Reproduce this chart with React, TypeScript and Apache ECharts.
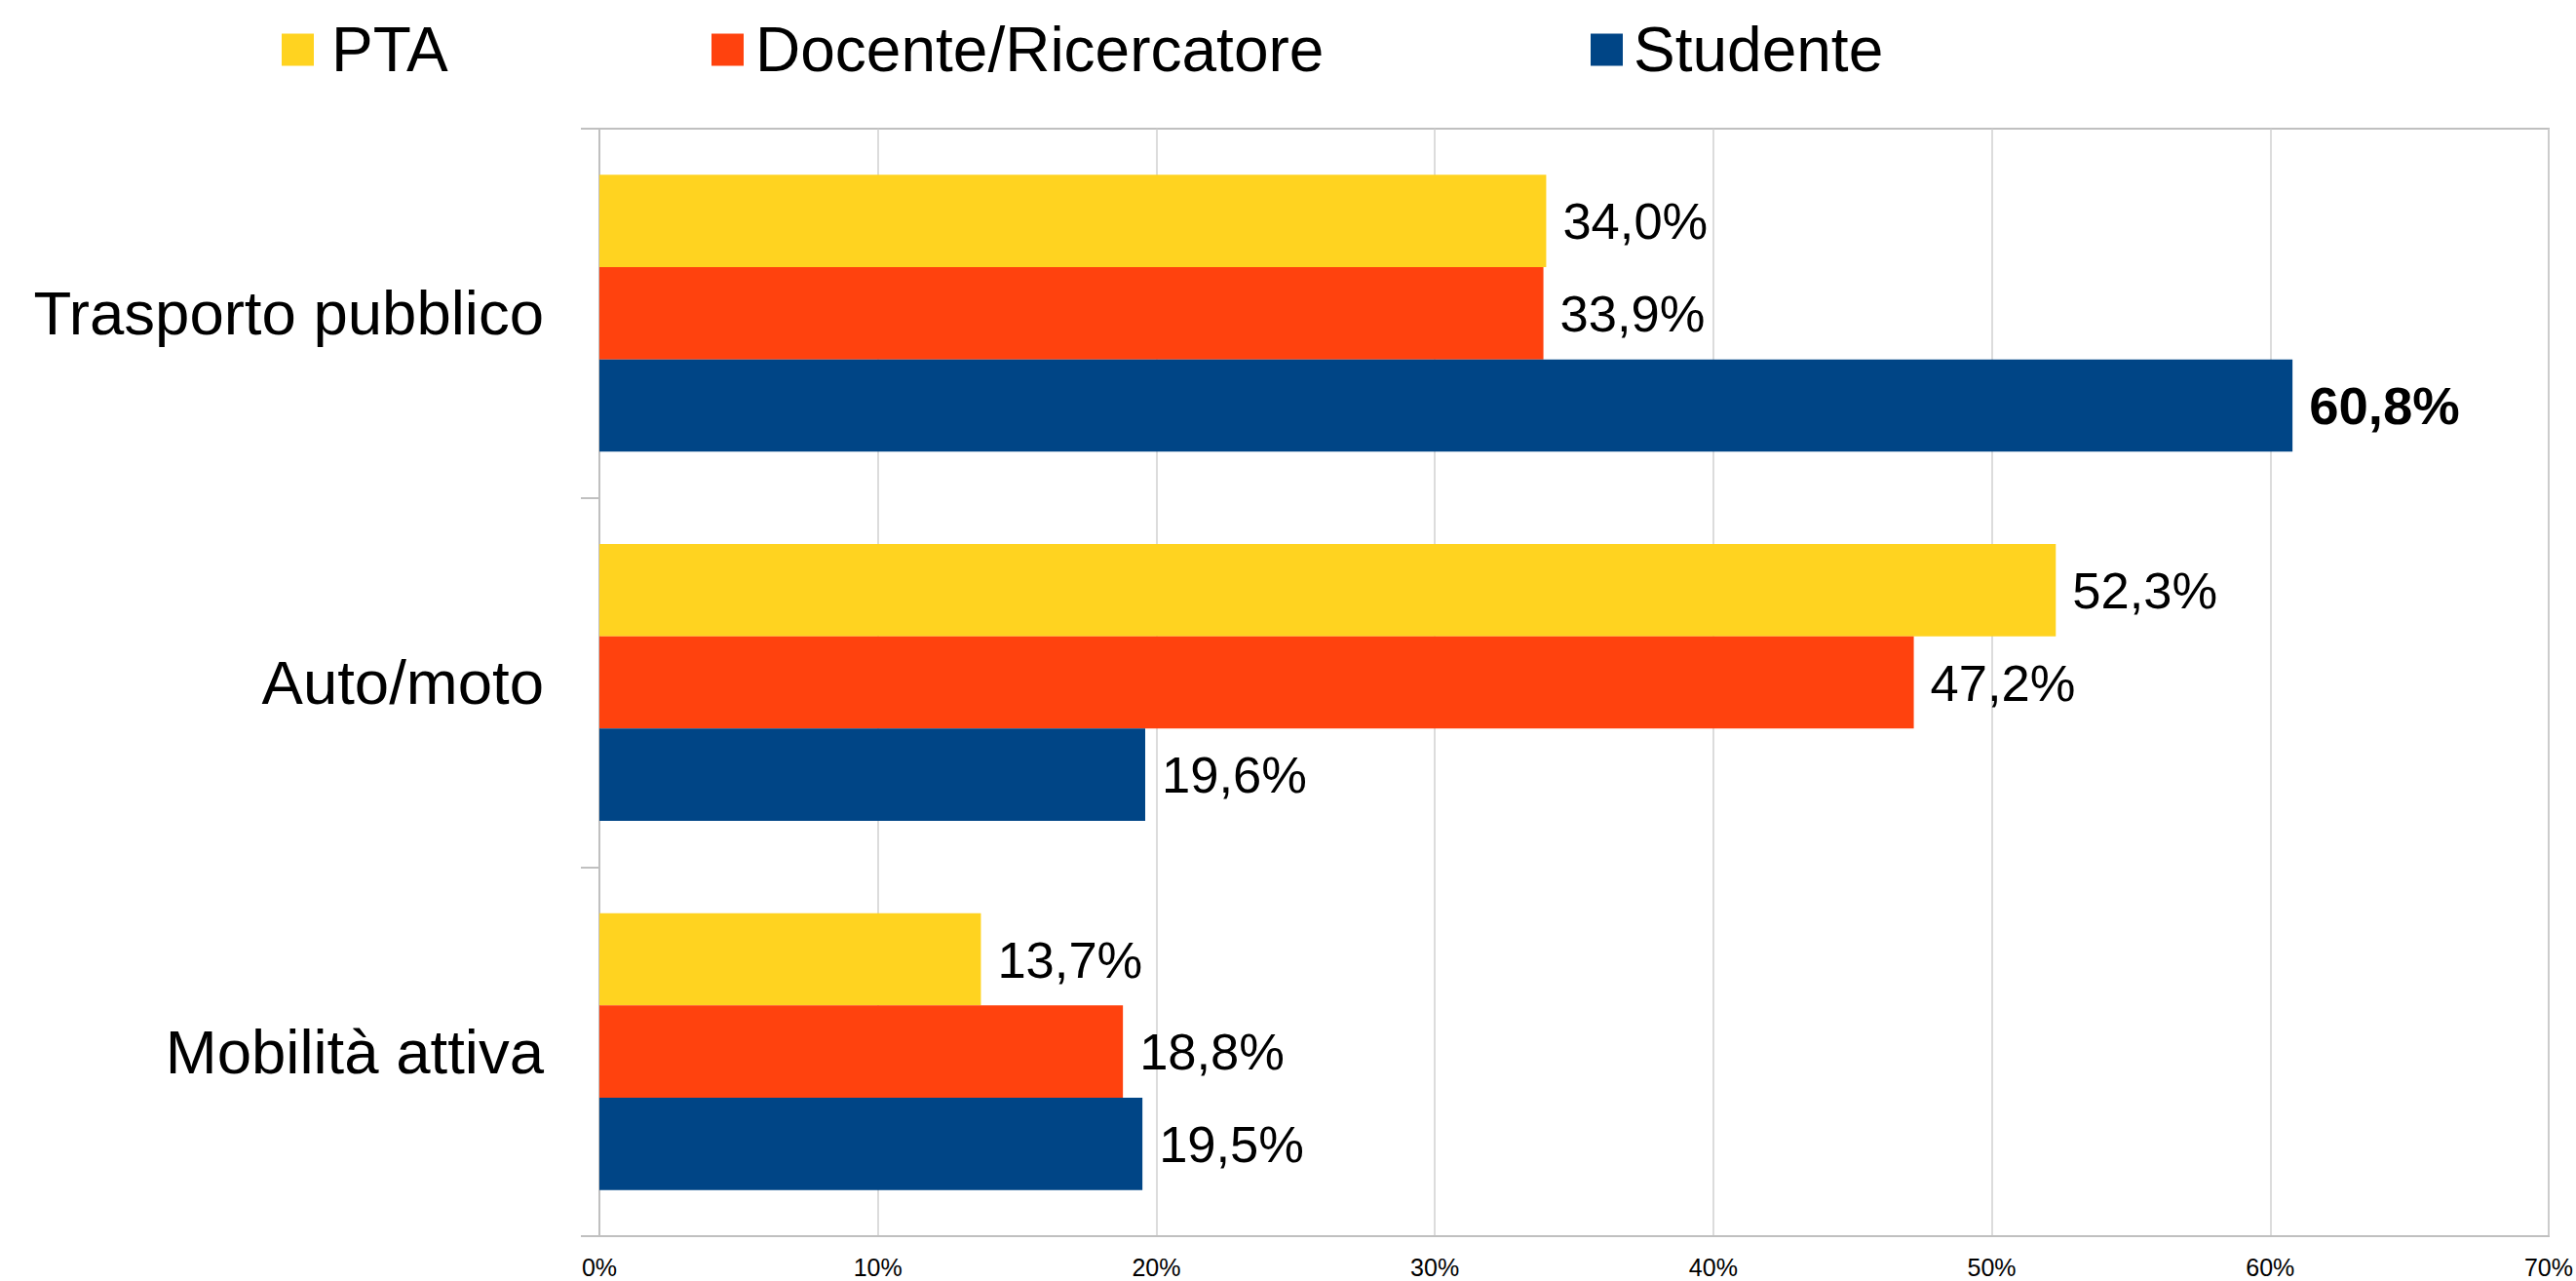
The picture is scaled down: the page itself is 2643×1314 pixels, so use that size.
import React, { useEffect, useRef } from "react";
import * as echarts from "echarts";

const categories = ["Trasporto pubblico", "Auto/moto", "Mobilità attiva"];
const seriesNames = ["PTA", "Docente/Ricercatore", "Studente"];
const ptaValues = [34.0, 52.3, 13.7];
const docenteValues = [33.9, 47.2, 18.8];
const studenteValues = [60.8, 19.6, 19.5];
const boldLabels = [[false, false, false], [false, false, false], [true, false, false]];
const xTicks = { min: 0, max: 70, interval: 10 };
const colors = ["#ffd320", "#ff420e", "#004586"];

const FONT = "Liberation Sans, Arial, sans-serif";

export default function App() {
  const ref = useRef<HTMLDivElement>(null);
  useEffect(() => {
    if (!ref.current) return;
    const chart = echarts.init(ref.current, null, { renderer: "svg" });
    const allValues = [ptaValues, docenteValues, studenteValues];
    const fmt = (v: number) => `${v.toFixed(1).replace(".", ",")}%`;
    const legendLefts = [289, 730, 1632];
    const legendTextPad = [13, 7, 6];
    chart.setOption({
      animation: false,
      backgroundColor: "#ffffff",
      textStyle: { fontFamily: FONT },
      legend: seriesNames.map((name, i) => ({
        data: [name],
        left: legendLefts[i],
        top: 19,
        padding: 0,
        itemWidth: 33,
        itemHeight: 33,
        icon: "rect",
        textStyle: {
          fontSize: 64,
          color: "#000",
          fontFamily: FONT,
          padding: [0, 0, 0, legendTextPad[i]],
        },
      })),
      grid: {
        left: 615,
        right: 27,
        top: 132,
        bottom: 46,
        show: true,
        borderColor: "#c0c0c0",
        borderWidth: 2,
        containLabel: false,
      },
      xAxis: {
        type: "value",
        min: xTicks.min,
        max: xTicks.max,
        interval: xTicks.interval,
        axisLine: { show: true, lineStyle: { color: "#c0c0c0", width: 2 } },
        axisTick: { show: false },
        axisLabel: {
          formatter: "{value}%",
          fontSize: 25,
          color: "#000",
          margin: 19,
          fontFamily: FONT,
        },
        splitLine: { show: true, lineStyle: { color: "#d0d0d0", width: 1.5 } },
      },
      yAxis: {
        type: "category",
        data: categories,
        inverse: true,
        axisLine: { show: true, lineStyle: { color: "#c0c0c0", width: 2 } },
        axisTick: { show: true, length: 19, lineStyle: { color: "#c0c0c0", width: 2 } },
        axisLabel: { fontSize: 63.5, color: "#000", margin: 57, fontFamily: FONT },
        splitLine: { show: false },
      },
      series: seriesNames.map((name, i) => ({
        name,
        type: "bar",
        barCategoryGap: "25%",
        barGap: "0%",
        itemStyle: { color: colors[i] },
        label: {
          show: true,
          position: "right",
          distance: 17,
          fontSize: 52.5,
          color: "#000",
          fontFamily: FONT,
          formatter: (p: any) => fmt(p.value),
        },
        data: allValues[i].map((v, j) => ({
          value: v,
          label: boldLabels[i][j] ? { fontWeight: "bold", fontSize: 54.5 } : undefined,
        })),
      })),
    });
    return () => chart.dispose();
  }, []);
  return (
    <div
      ref={ref}
      style={{ position: "fixed", left: 0, top: 0, width: 2643, height: 1314 }}
    />
  );
}
